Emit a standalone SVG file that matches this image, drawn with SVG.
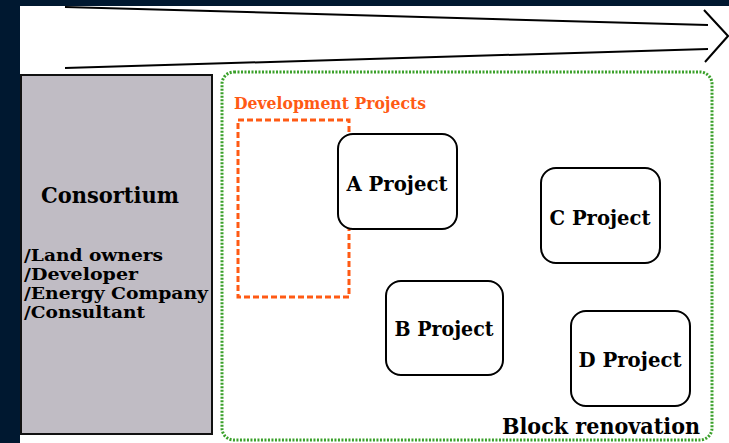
<svg xmlns="http://www.w3.org/2000/svg" width="729" height="443" viewBox="0 0 729 443">
  <style>
    .proj rect { fill: #ffffff; stroke: #000000; stroke-width: 2; }
    .proj text, .lbl { font-family: "DejaVu Serif", "Liberation Serif", serif; font-weight: bold; fill: #000000; }
    .proj text { font-size: 20px; text-anchor: middle; }
    .member { font-size: 16px; }
  </style>
  <!-- page background and dark frame -->
  <rect x="0" y="0" width="729" height="443" fill="#ffffff"/>
  <rect x="0" y="0" width="729" height="6" fill="#001830"/>
  <rect x="0" y="0" width="20" height="443" fill="#001830"/>

  <!-- wide arrow across the top -->
  <g id="timeline-arrow" fill="none" stroke="#000000" stroke-width="2">
    <line x1="65" y1="7" x2="708" y2="25"/>
    <line x1="65" y1="68" x2="708" y2="49"/>
    <polyline points="704,10 728,36 705,62"/>
  </g>

  <!-- consortium -->
  <g id="consortium">
    <rect x="21" y="75" width="191" height="359" fill="#c0bcc4" stroke="#111111" stroke-width="2"/>
    <text class="lbl" x="41" y="203" font-size="23" textLength="138" lengthAdjust="spacingAndGlyphs">Consortium</text>
    <text class="lbl member" x="24" y="261" textLength="139" lengthAdjust="spacingAndGlyphs">/Land owners</text>
    <text class="lbl member" x="24" y="280" textLength="114" lengthAdjust="spacingAndGlyphs">/Developer</text>
    <text class="lbl member" x="24" y="299" textLength="184" lengthAdjust="spacingAndGlyphs">/Energy Company</text>
    <text class="lbl member" x="24" y="318" textLength="121" lengthAdjust="spacingAndGlyphs">/Consultant</text>
  </g>

  <!-- block renovation area -->
  <g id="block-renovation">
    <rect x="222" y="72" width="490" height="368" rx="12" fill="none" stroke="#3aa02a" stroke-width="3" stroke-dasharray="2 1.5"/>
    <text class="lbl" x="502" y="434" font-size="23" textLength="198" lengthAdjust="spacingAndGlyphs">Block renovation</text>
  </g>

  <!-- development projects -->
  <g id="development-projects">
    <rect x="238" y="120" width="111" height="177" fill="none" stroke="#ff5a14" stroke-width="3" stroke-dasharray="6 3"/>
    <text x="234" y="109" font-family="DejaVu Serif, Liberation Serif, serif" font-weight="bold" font-size="17" fill="#ff5a14" textLength="192" lengthAdjust="spacingAndGlyphs">Development Projects</text>
  </g>

  <g id="a-project" class="proj">
    <rect x="338" y="134" width="119" height="95" rx="15"/>
    <text x="397" y="191" textLength="101" lengthAdjust="spacingAndGlyphs">A Project</text>
  </g>
  <g id="c-project" class="proj">
    <rect x="541" y="168" width="119" height="95" rx="15"/>
    <text x="600" y="225" textLength="101" lengthAdjust="spacingAndGlyphs">C Project</text>
  </g>
  <g id="b-project" class="proj">
    <rect x="386" y="281" width="117" height="94" rx="15"/>
    <text x="444" y="336" textLength="99" lengthAdjust="spacingAndGlyphs">B Project</text>
  </g>
  <g id="d-project" class="proj">
    <rect x="571" y="311" width="119" height="95" rx="15"/>
    <text x="630" y="367" textLength="103" lengthAdjust="spacingAndGlyphs">D Project</text>
  </g>

  <!-- no connectors between nodes -->
  <g id="connectors"/>
</svg>
